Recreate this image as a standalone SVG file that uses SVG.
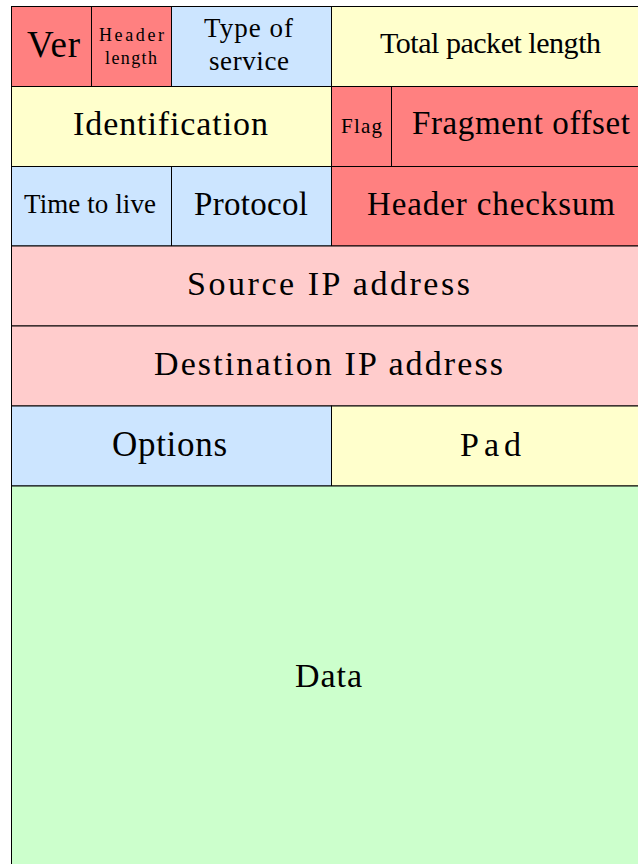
<svg xmlns="http://www.w3.org/2000/svg" width="638" height="864" viewBox="0 0 638 864">
<style>
.c{stroke:#000;stroke-width:1}
.r{fill:#FF8080}
.b{fill:#CCE5FF}
.y{fill:#FFFFCC}
.p{fill:#FFCCCC}
.g{fill:#CCFFCC}
text{font-family:"Liberation Serif","Times New Roman",serif;fill:#000}
</style>
<rect x="0" y="0" width="638" height="864" fill="#fff"/>
<g id="ver"><rect class="c r" x="11.5" y="6.5" width="80" height="80"/><text x="27" y="57" font-size="37" textLength="53" lengthAdjust="spacing">Ver</text></g>
<g id="header-length"><rect class="c r" x="91.5" y="6.5" width="80" height="80"/><text x="99" y="41" font-size="18" textLength="65" lengthAdjust="spacing">Header</text><text x="105" y="64" font-size="18" textLength="52" lengthAdjust="spacing">length</text></g>
<g id="type-of-service"><rect class="c b" x="171.5" y="6.5" width="160" height="80"/><text x="204" y="37" font-size="27" textLength="89" lengthAdjust="spacing">Type of</text><text x="209" y="70" font-size="27" textLength="80" lengthAdjust="spacing">service</text></g>
<g id="total-packet-length"><rect class="c y" x="331.5" y="6.5" width="320" height="80"/><text x="380" y="53" font-size="30" textLength="221" lengthAdjust="spacing">Total packet length</text></g>
<g id="identification"><rect class="c y" x="11.5" y="86.5" width="320" height="80"/><text x="73" y="135" font-size="34" textLength="195" lengthAdjust="spacing">Identification</text></g>
<g id="flag"><rect class="c r" x="331.5" y="86.5" width="60" height="80"/><text x="341" y="133" font-size="21" textLength="41" lengthAdjust="spacing">Flag</text></g>
<g id="fragment-offset"><rect class="c r" x="391.5" y="86.5" width="260" height="80"/><text x="412" y="134" font-size="33" textLength="218" lengthAdjust="spacing">Fragment offset</text></g>
<g id="time-to-live"><rect class="c b" x="11.5" y="166.5" width="160" height="79.5"/><text x="24" y="213" font-size="27" textLength="132" lengthAdjust="spacing">Time to live</text></g>
<g id="protocol"><rect class="c b" x="171.5" y="166.5" width="160" height="79.5"/><text x="194" y="215" font-size="33" textLength="114" lengthAdjust="spacing">Protocol</text></g>
<g id="header-checksum"><rect class="c r" x="331.5" y="166.5" width="320" height="79.5"/><text x="367" y="215" font-size="33" textLength="248" lengthAdjust="spacing">Header checksum</text></g>
<g id="source-ip"><rect class="c p" x="11.5" y="246" width="640" height="80"/><text x="187" y="295" font-size="34" textLength="283" lengthAdjust="spacing">Source IP address</text></g>
<g id="destination-ip"><rect class="c p" x="11.5" y="326" width="640" height="80"/><text x="154" y="375" font-size="34" textLength="349" lengthAdjust="spacing">Destination IP address</text></g>
<g id="options"><rect class="c b" x="11.5" y="406" width="320" height="80"/><text x="112" y="456" font-size="35" textLength="115" lengthAdjust="spacing">Options</text></g>
<g id="pad"><rect class="c y" x="331.5" y="406" width="320" height="80"/><text x="460" y="456" font-size="34" textLength="61" lengthAdjust="spacing">Pad</text></g>
<g id="data"><rect class="c g" x="11.5" y="486" width="640" height="400"/><text x="295" y="687" font-size="34" textLength="67" lengthAdjust="spacing">Data</text></g>
<g id="connectors"></g>
</svg>
